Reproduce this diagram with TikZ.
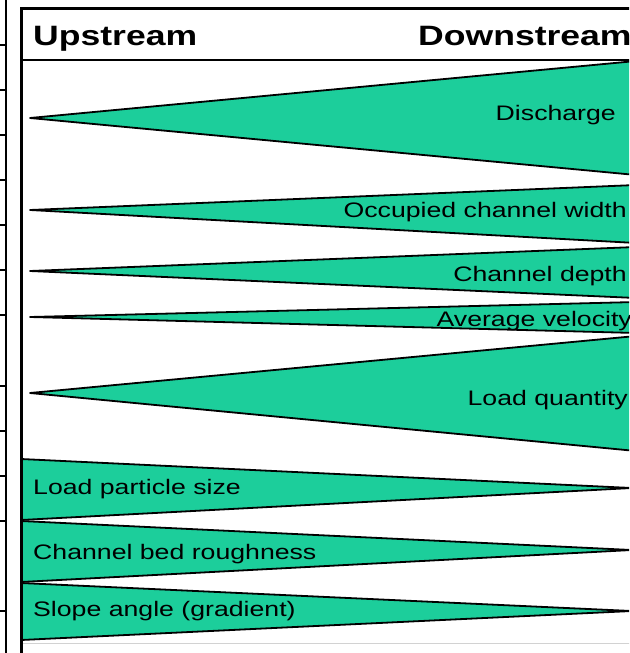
\documentclass[tikz,border=0pt]{standalone}
\usepackage{fontspec}
\setmainfont{Liberation Sans}
\definecolor{wedge}{RGB}{28,206,155}
\begin{document}
\begin{tikzpicture}[x=1pt,y=-1pt,
  wedgebox/.style={fill=wedge,draw=black,line width=1.8pt,line join=round},
  lbl/.style={inner sep=0pt,font=\fontsize{21}{21}\selectfont},
  hdr/.style={inner sep=0pt,font=\fontsize{28}{28}\selectfont\bfseries},
  frameline/.style={line width=3pt},
  tickline/.style={line width=1.5pt}]
\useasboundingbox (0,0) rectangle (629,653);
\clip (0,0) rectangle (629,653);
% left strip of a neighbouring table
\draw[line width=2pt] (6,0) -- (6,653);
\foreach \yy in {45,90,135,180,225,270,315,386,431,476,521,611}
  \draw[tickline] (0,\yy) -- (6,\yy);
% increasing wedges
\draw[wedgebox] (30,118) -- (636,61) -- (636,175) -- cycle;
\draw[wedgebox] (30,210) -- (636,185) -- (636,243) -- cycle;
\draw[wedgebox] (30,271) -- (636,247) -- (636,298) -- cycle;
\draw[wedgebox] (30,317) -- (636,302) -- (636,333) -- cycle;
\draw[wedgebox] (30,393) -- (636,336) -- (636,451) -- cycle;
% decreasing wedges
\draw[wedgebox] (21,459) -- (632,488) -- (21,520) -- cycle;
\draw[wedgebox] (21,521) -- (632,550) -- (21,582) -- cycle;
\draw[wedgebox] (21,583) -- (632,611) -- (21,640) -- cycle;
% frame
\draw[gray!35,line width=1pt] (22,643) -- (640,643);
\draw[frameline] (21,660) -- (21,8) -- (640,8);
\draw[line width=2pt] (21,60) -- (640,60);
% headers
\node[hdr,anchor=base west] (up) at (33,45) {\scalebox{1.27}[1]{Upstream}};
\node[hdr,anchor=base west] (down) at (418,45) {\scalebox{1.27}[1]{Downstream}};
% labels
\node[lbl,anchor=base east] (q) at (616,120) {\scalebox{1.27}[1]{Discharge}};
\node[lbl,anchor=base east] (w) at (627,217) {\scalebox{1.27}[1]{Occupied channel width}};
\node[lbl,anchor=base east] (d) at (627,281) {\scalebox{1.27}[1]{Channel depth}};
\node[lbl,anchor=base east] (v) at (632,326) {\scalebox{1.27}[1]{Average velocity}};
\node[lbl,anchor=base east] (lq) at (628,405) {\scalebox{1.27}[1]{Load quantity}};
\node[lbl,anchor=base west] (ps) at (33,494) {\scalebox{1.27}[1]{Load particle size}};
\node[lbl,anchor=base west] (br) at (33,559) {\scalebox{1.27}[1]{Channel bed roughness}};
\node[lbl,anchor=base west] (sa) at (33,616) {\scalebox{1.27}[1]{Slope angle (gradient)}};
\end{tikzpicture}
\end{document}
